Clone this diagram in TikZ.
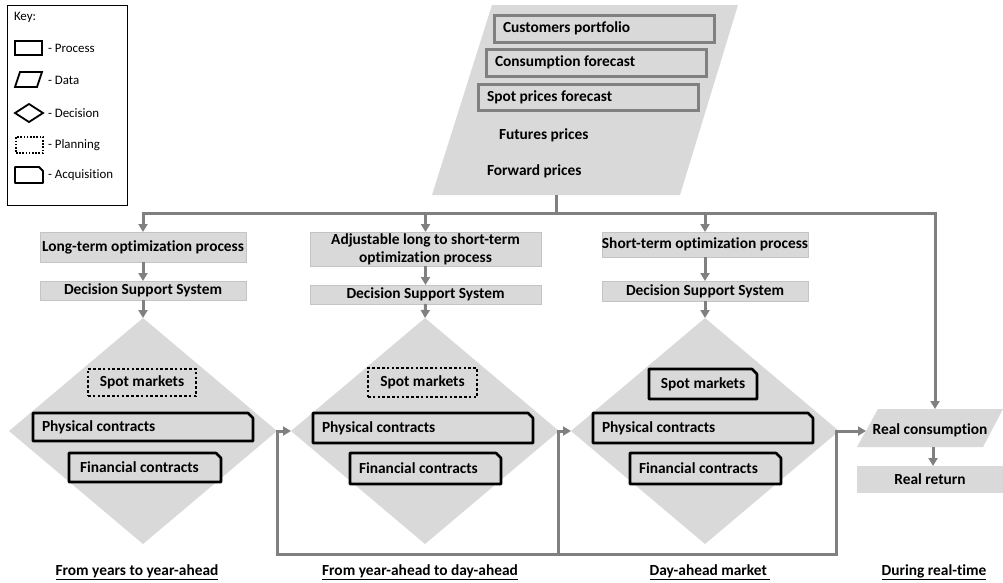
\documentclass[tikz,border=0pt]{standalone}
\usepackage{fontspec}
\setmainfont{Carlito}[Ligatures={NoCommon}]
\usetikzlibrary{arrows.meta,shapes.geometric}
\definecolor{fillg}{HTML}{D9D9D9}
\definecolor{lineg}{HTML}{808080}
\definecolor{edgeg}{HTML}{C4C4C4}
\newcommand\acqoutline[3][2.6pt]{%
  \draw[line width=#1, line join=round, draw=black]
    (#2.south west) -- (#2.north west) -- ([xshift=-#3]#2.north east)
    -- ([yshift=-#3]#2.north east) -- (#2.south east) -- cycle;}
\begin{document}
\begin{tikzpicture}[x=1pt,y=-1pt,
  every node/.style={font=\fontsize{15.4}{18}\selectfont\bfseries, inner sep=0pt, outer sep=0pt},
  proc/.style={rectangle, draw=edgeg, line width=0.8pt, fill=fillg},
  conn/.style={draw=lineg, line width=3pt},
  arr/.style={conn, -{Triangle[width=9pt,length=8pt]}},
  acq/.style={rectangle, fill=fillg},
  plan/.style={rectangle, draw=black, line width=2.6pt, dash pattern=on 2.6pt off 2.2pt, fill=fillg},
  dec/.style={diamond, fill=fillg, minimum width=268pt, minimum height=226pt},
  ibox/.style={rectangle, draw=lineg, line width=3pt, fill=fillg},
  keyt/.style={font=\fontsize{12.9}{15}\selectfont, anchor=west},
  ksh/.style={draw=black, line width=1.8pt, fill=white},
  bot/.style={anchor=base}
]
\useasboundingbox (0,0) rectangle (1003,582);

% ---------- Key ----------
\node[draw=black, line width=0.9pt, rectangle, minimum width=120pt, minimum height=200pt] (key) at (67,105) {};
\node[keyt] (keyh) at (14,17) {Key:};
\node[ksh, rectangle, minimum width=27pt, minimum height=14pt] (kp) at (28.5,48) {};
\node[keyt] (kpt) at (48,48.5) {- Process};
\draw[ksh] (20,72) -- (42,72) -- (37,87) -- (15,87) -- cycle;
\coordinate (kd) at (28.5,80);
\node[keyt] (kdt) at (48,80.5) {- Data};
\node[ksh, diamond, minimum width=28pt, minimum height=18pt] (kdec) at (29,113) {};
\node[keyt] (kdect) at (48,113.5) {- Decision};
\node[rectangle, draw=black, line width=1.8pt, dash pattern=on 1.6pt off 1.6pt, minimum width=27pt, minimum height=16pt] (kpl) at (29.5,145) {};
\node[keyt] (kplt) at (48,145.5) {- Planning};
\node[rectangle, minimum width=28pt, minimum height=16pt] (kacq) at (29,175) {};
\acqoutline[1.8pt]{kacq}{4pt}
\node[keyt] (kacqt) at (48,175.5) {- Acquisition};

% ---------- Top data parallelogram ----------
\fill[fillg] (492,5) -- (738,5) -- (680,195) -- (432,195) -- cycle;
\coordinate (pb) at (556,195);
\node[ibox, minimum width=220pt, minimum height=27pt] (cp) at (604,28.5) {\makebox[202pt][l]{Customers portfolio}};
\node[ibox, minimum width=220pt, minimum height=27pt] (cf) at (596,62.5) {\makebox[202pt][l]{Consumption forecast}};
\node[ibox, minimum width=220pt, minimum height=26pt] (spf) at (588,97) {\makebox[202pt][l]{Spot prices forecast}};
\node[anchor=west] (fut) at (499,135.5) {Futures prices};
\node[anchor=west] (fwd) at (487,171.5) {Forward prices};

% ---------- Bus ----------
\coordinate (bus) at (556,213);
\coordinate (busL) at (143,213);
\coordinate (busR) at (935,213);
\draw[conn] (pb) -- (bus);
\draw[conn, line cap=rect] (busL) -- (busR);

% ---------- Column boxes ----------
\node[proc, minimum width=206pt, minimum height=30pt] (lt) at (143,247) {Long-term optimization process};
\node[proc, minimum width=206pt, minimum height=19pt] (dss1) at (143,290.5) {Decision Support System};
\node[proc, minimum width=231pt, minimum height=34pt, align=center] (adj) at (425.5,249) {Adjustable long to short-term\\optimization process};
\node[proc, minimum width=231pt, minimum height=19pt] (dss2) at (425.5,294.5) {Decision Support System};
\node[proc, minimum width=206pt, minimum height=25pt] (st) at (705,244.5) {Short-term optimization process};
\node[proc, minimum width=206pt, minimum height=20pt] (dss3) at (705,291) {Decision Support System};

% ---------- Diamonds ----------
\node[dec] (d1) at (143,431) {};
\node[dec] (d2) at (425,431) {};
\node[dec] (d3) at (705,431) {};

\node[plan, minimum width=108pt, minimum height=27pt] (sm1) at (142,382.5) {Spot markets};
\node[acq, minimum width=220pt, minimum height=28pt] (pc1) at (143,427) {\makebox[202pt][l]{Physical contracts}};
\node[acq, minimum width=152pt, minimum height=29pt] (fc1) at (145,467.5) {\makebox[130pt][l]{Financial contracts}};

\node[plan, minimum width=109pt, minimum height=29pt] (sm2) at (422.5,382.5) {Spot markets};
\node[acq, minimum width=220pt, minimum height=30pt] (pc2) at (423,428) {\makebox[202pt][l]{Physical contracts}};
\node[acq, minimum width=151pt, minimum height=31pt] (fc2) at (425.5,468.5) {\makebox[133pt][l]{Financial contracts}};

\node[acq, minimum width=108pt, minimum height=30pt] (sm3) at (703,384) {Spot markets};
\node[acq, minimum width=220pt, minimum height=30pt] (pc3) at (703,428) {\makebox[202pt][l]{Physical contracts}};
\node[acq, minimum width=151pt, minimum height=31pt] (fc3) at (705.5,468.5) {\makebox[133pt][l]{Financial contracts}};

\acqoutline{pc1}{5pt}
\acqoutline{fc1}{5pt}
\acqoutline{pc2}{5pt}
\acqoutline{fc2}{5pt}
\acqoutline{sm3}{5pt}
\acqoutline{pc3}{5pt}
\acqoutline{fc3}{5pt}

% ---------- Real time ----------
\fill[fillg] (878,409) -- (1003,409) -- (983,447) -- (857,447) -- cycle;
\node (rc) at (930,430) {Real consumption};
\coordinate (rctop) at (935,409);
\coordinate (rcleft) at (866,431);
\coordinate (rcbot) at (933,447);
\node[proc, draw=none, minimum width=146pt, minimum height=27pt] (rr) at (930,479.5) {Real return};

% ---------- Vertical arrows ----------
\draw[arr] (busL) -- (lt.north);
\draw[arr] (bus -| adj.north) -- (adj.north);
\draw[arr] (busR -| st.north) -- (st.north);
\draw[arr] (busR) -- (rctop);
\draw[arr] (lt.south) -- (dss1.north);
\draw[arr] (dss1.south) -- (d1.north);
\draw[arr] (adj.south) -- (dss2.north);
\draw[arr] (dss2.south) -- (d2.north);
\draw[arr] (st.south) -- (dss3.north);
\draw[arr] (dss3.south) -- (d3.north);
\draw[arr] (rcbot) -- (rr.north -| rcbot);

% ---------- Feedback loop ----------
\coordinate (fa) at (277,554);
\coordinate (fb) at (558,554);
\coordinate (fc) at (836,554);
\draw[conn, line cap=rect] (fa) -- (fc);
\draw[arr] (fa) |- (d2.west);
\draw[arr] (fb) |- (d3.west);
\draw[arr] (fc) |- (rcleft);

% ---------- Bottom labels ----------
\node[bot] (l1) at (137,575) {\underline{From years to year-ahead}};
\node[bot] (l2) at (420,575) {\underline{From year-ahead to day-ahead}};
\node[bot] (l3) at (710,575) {\underline{Day-ahead market\ }};
\node[bot] (l4) at (934,575) {\underline{During real-time}};
\end{tikzpicture}
\end{document}
